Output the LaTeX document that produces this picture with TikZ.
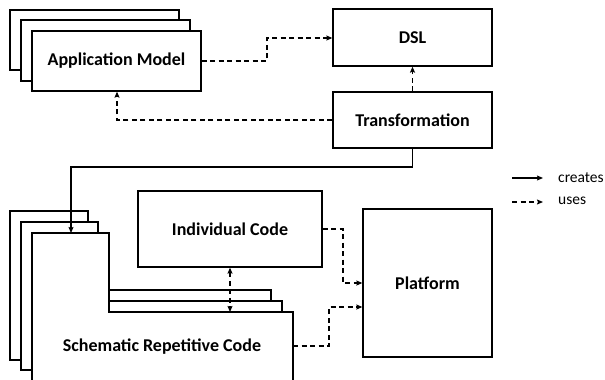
\documentclass[tikz,border=0pt]{standalone}
\usepackage{fontspec}
\setmainfont{Carlito}
\usetikzlibrary{arrows.meta}
\tikzset{
  tip/.tip={Stealth[length=6pt,width=5pt,inset=1pt]},
  box/.style={draw, line width=1.3pt, fill=white, inner sep=0pt, font=\bfseries\fontsize{18}{20}\selectfont},
  sheet/.style={draw, line width=1.3pt, fill=white},
  uses/.style={line width=1.1pt, dash pattern=on 5pt off 3.5pt, -tip},
  creates/.style={line width=1.1pt, -tip},
  bothuses/.style={line width=1.1pt, dash pattern=on 5pt off 3.5pt, tip-tip},
  lbl/.style={font=\fontsize{15.5}{17}\selectfont, anchor=west, inner sep=0pt}
}
\begin{document}
\begin{tikzpicture}[x=1pt,y=-1pt]
\clip (0,0) rectangle (605,380);
\fill[white] (0,0) rectangle (605,380);
% Application Model stack
\draw[sheet] (10,10) rectangle (179,70);
\draw[sheet] (21,20) rectangle (190,81);
\node[box, minimum width=169pt, minimum height=60pt] (am) at (116.5,61) {Application Model};
% DSL and Transformation
\node[box, minimum width=159pt, minimum height=57pt] (dsl) at (412.5,37.5) {DSL};
\node[box, minimum width=159pt, minimum height=56pt] (tr) at (412.5,120) {Transformation};
% Code stack
\draw[sheet] (10,211) -- (88,211) -- (88,290) -- (271,290) -- (271,360) -- (10,360) -- cycle;
\draw[sheet] (21,222) -- (98,222) -- (98,301) -- (282,301) -- (282,370) -- (21,370) -- cycle;
\draw[sheet] (32,390) -- (32,233) -- (109,233) -- (109,312) -- (293,312) -- (293,390);
\node[font=\bfseries\fontsize{18}{20}\selectfont, inner sep=0pt] (src) at (162,347) {Schematic Repetitive Code};
\coordinate (srctop) at (71,233);
\coordinate (srcshoulder) at (230,312);
\coordinate (srcright) at (293,346);
% Individual code, Platform
\node[box, minimum width=184pt, minimum height=76pt] (ic) at (230,229) {Individual Code};
\node[box, minimum width=129pt, minimum height=148pt] (pf) at (427.5,283) {Platform};
% connectors
\draw[uses] (am.east |- 0,61) -- (267,61) -- (267,38) -- (dsl.west |- 0,38);
\draw[uses] (tr.west) -- (117,120) -- (am.south -| 117,0);
\draw[uses] (tr.north) -- (dsl.south);
\draw[creates] (tr.south) -- (412.5,167) -- (71,167) -- (srctop);
\draw[bothuses] (ic.south -| srcshoulder) -- (srcshoulder);
\draw[uses] (ic.east |- 0,229) -- (343,229) -- (343,283) -- (pf.west |- 0,283);
\draw[uses] (srcright) -- (329,346) -- (329,307) -- (pf.west |- 0,307);
% legend
\coordinate (l1a) at (512,178); \coordinate (l1b) at (543,178);
\coordinate (l2a) at (512,202); \coordinate (l2b) at (543,202);
\draw[creates] (l1a) -- (l1b);
\draw[uses] (l2a) -- (l2b);
\node[lbl] (lc) at (558,178) {creates};
\node[lbl] (lu) at (558,201) {uses};
\end{tikzpicture}
\end{document}
